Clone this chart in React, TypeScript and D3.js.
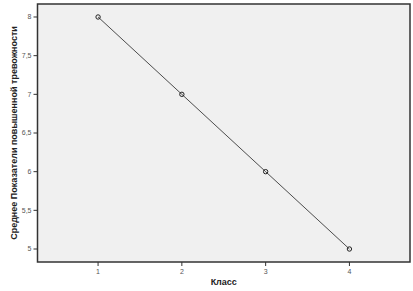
import React from "react";
import * as d3 from "d3";

const classes = [1, 2, 3, 4];
const means = [8, 7, 6, 5];
const yTicks = [5, 5.5, 6, 6.5, 7, 7.5, 8];
const yLabel = "Среднее Показатели повышенной тревожности";
const xLabel = "Класс";

export default function App() {
  const W = 413, H = 291;
  const L = 37.5, R = 410, T = 4, B = 262;
  const x = d3.scaleLinear().domain([0.277, 4.723]).range([L, R]);
  const y = d3.scaleLinear().domain([4.832, 8.168]).range([B, T]);
  const line = d3.line<number>().x((_, i) => x(classes[i])).y((d) => y(d));
  const fmt = (v: number) => String(v).replace(".", ",");
  return (
    <svg width={W} height={H} style={{ position: "absolute", left: 0, top: 0, fontFamily: "Liberation Sans, Arial, sans-serif" }}>
      <rect x={0} y={0} width={W} height={H} fill="#fff" />
      <rect x={L} y={T} width={R - L} height={B - T} fill="#f0f0f0" stroke="#333" strokeWidth={1.5} />
      {yTicks.map((t) => (
        <g key={t}>
          <line x1={L - 4} x2={L} y1={y(t)} y2={y(t)} stroke="#333" strokeWidth={1} />
          <text x={L - 6} y={y(t)} dy="0.35em" textAnchor="end" fontSize={7} fill="#555">{fmt(t)}</text>
        </g>
      ))}
      {classes.map((c) => (
        <g key={c}>
          <line x1={x(c)} x2={x(c)} y1={B} y2={B + 4} stroke="#333" strokeWidth={1} />
          <text x={x(c)} y={B + 12} textAnchor="middle" fontSize={7} fill="#555">{c}</text>
        </g>
      ))}
      <path d={line(means) || ""} fill="none" stroke="#222" strokeWidth={0.8} />
      {means.map((m, i) => (
        <circle key={i} cx={x(classes[i])} cy={y(m)} r={2.2} fill="none" stroke="#222" strokeWidth={1} />
      ))}
      <text x={x(2.5)} y={285} textAnchor="middle" fontSize={9} fontWeight="bold" fill="#222">{xLabel}</text>
      <text transform={`translate(17,${(T + B) / 2}) rotate(-90)`} textAnchor="middle" fontSize={9} fontWeight="bold" fill="#222">{yLabel}</text>
    </svg>
  );
}
